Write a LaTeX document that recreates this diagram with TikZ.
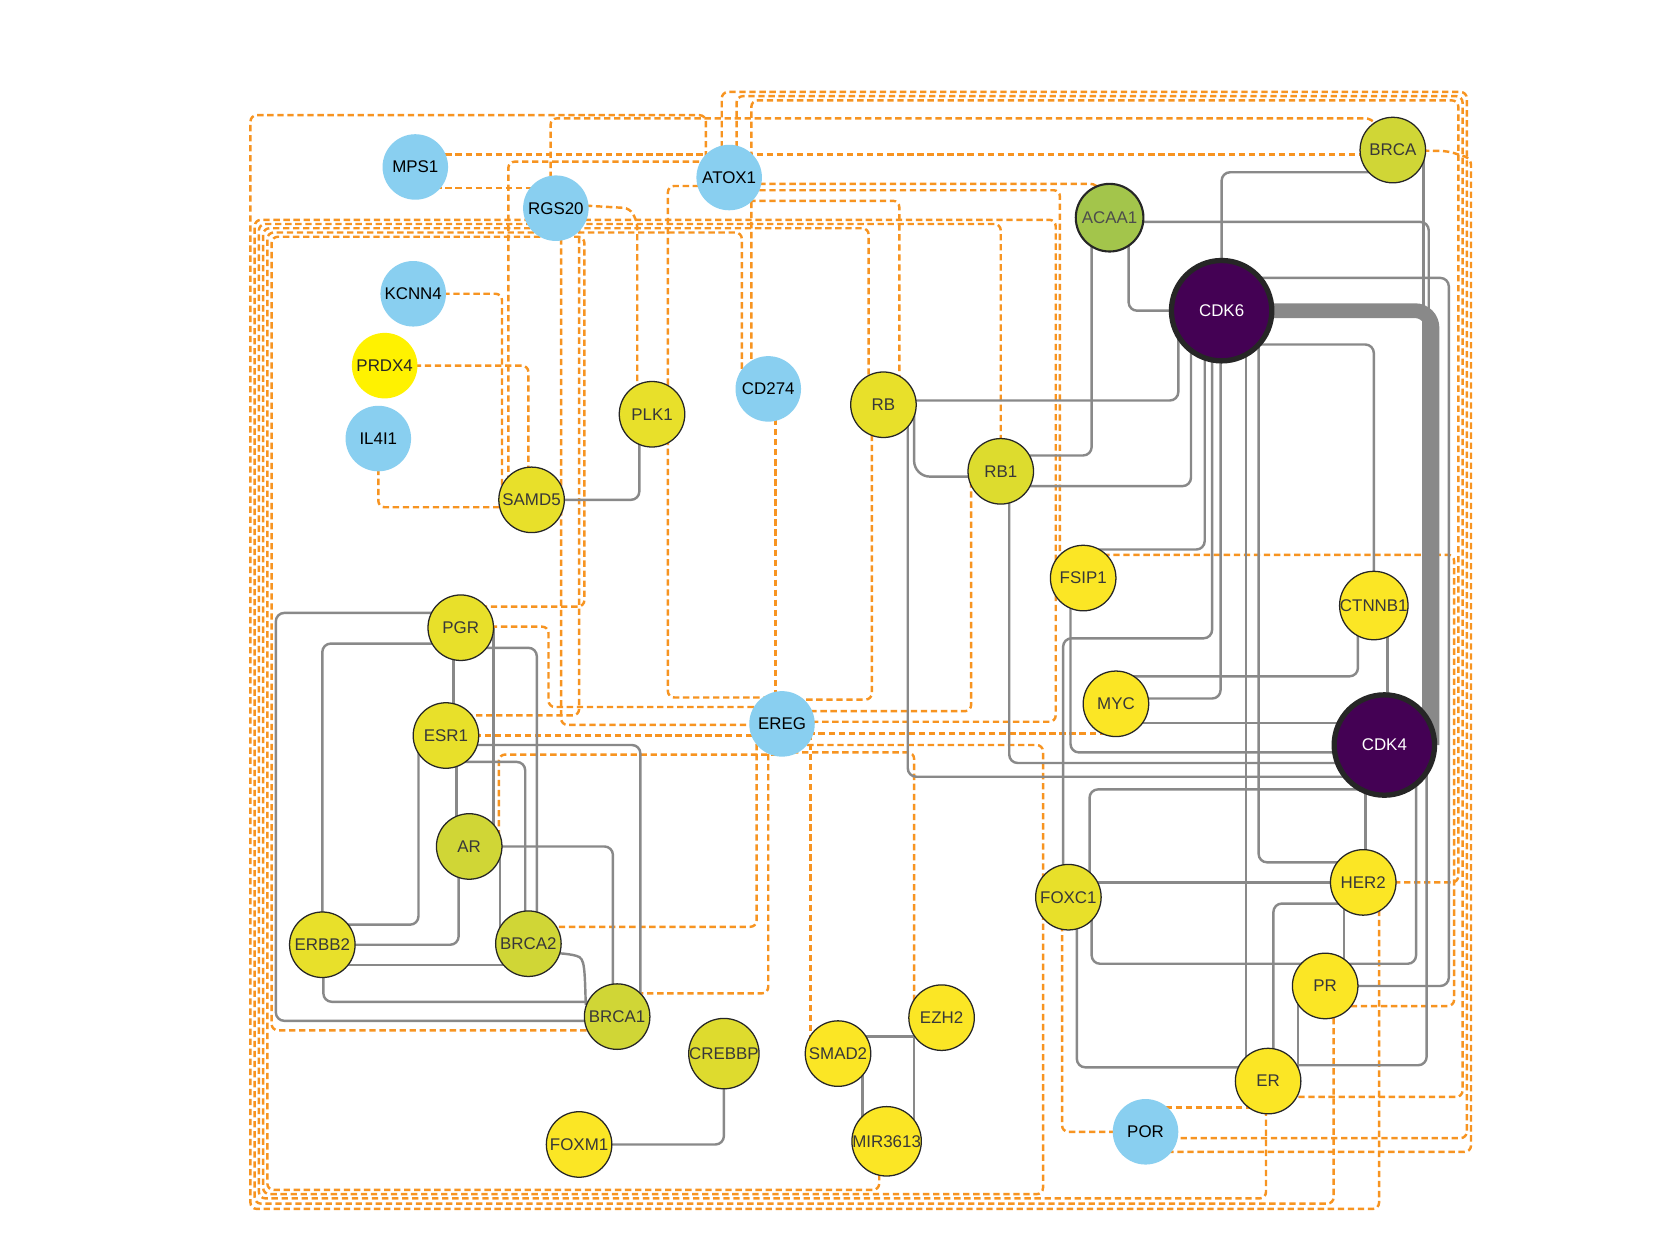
\documentclass[tikz,border=0pt]{standalone}
\usepackage{fontspec}
\setmainfont{Liberation Sans}
\usetikzlibrary{calc}
\pgfdeclarelayer{bg}
\pgfsetlayers{bg,main}
\definecolor{nblue}{HTML}{89CFF0}
\definecolor{yA}{HTML}{FBE625}
\definecolor{yB}{HTML}{E8E02A}
\definecolor{yC}{HTML}{DDDC2E}
\definecolor{yD}{HTML}{DEDB2E}
\definecolor{lime}{HTML}{D0D636}
\definecolor{acaa}{HTML}{A3C54B}
\definecolor{hubc}{HTML}{440154}
\definecolor{edgec}{HTML}{898989}
\definecolor{dashc}{HTML}{F79421}
\begin{document}
\begin{tikzpicture}[x=1pt,y=-1pt,
  gn/.style={circle,minimum size=62pt,inner sep=0pt,font=\fontsize{16}{19}\selectfont},
  yl/.style={gn,fill=#1,draw=black!85,line width=1.2pt,text=black!78},
  bl/.style={gn,fill=nblue,text=black},
  hub/.style={gn,minimum size=95pt,fill=hubc,draw=black!85,line width=5pt,text=white},
  ge/.style={draw=edgec,line width=2.3pt,rounded corners=8pt},
  de/.style={draw=dashc,line width=2.3pt,dash pattern=on 6pt off 3.5pt,rounded corners=6pt},
]
\useasboundingbox (0,0) rectangle (1568,1188);
% nodes
\node[bl] (MPS1) at (393,158) {MPS1};
\node[bl] (ATOX1) at (690,168) {ATOX1};
\node[bl] (RGS20) at (526,197) {RGS20};
\node[yl=lime] (BRCA) at (1318,142) {BRCA};
\node[gn,minimum size=64pt,fill=acaa,draw=black!85,line width=2pt,text=black!70] (ACAA1) at (1050,206) {ACAA1};
\node[hub] (CDK6) at (1156,294) {CDK6};
\node[bl] (KCNN4) at (391,278) {KCNN4};
\node[gn,fill=yellow,text=black!85] (PRDX4) at (364,346) {PRDX4};
\node[bl] (IL4I1) at (358,415) {IL4I1};
\node[yl=yB] (PLK1) at (617,392) {PLK1};
\node[bl] (CD274) at (727,368) {CD274};
\node[yl=yB] (RB) at (836,383) {RB};
\node[yl=yC] (RB1) at (947,446) {RB1};
\node[yl=yB] (SAMD5) at (503,473) {SAMD5};
\node[yl=yA] (FSIP1) at (1025,547) {FSIP1};
\node[yl=yA] (CTNNB1) at (1300,573) {CTNNB1};
\node[yl=yB] (PGR) at (436,594) {PGR};
\node[yl=yA] (MYC) at (1056,666) {MYC};
\node[hub] (CDK4) at (1310,705) {CDK4};
\node[bl] (EREG) at (740,685) {EREG};
\node[yl=yB] (ESR1) at (422,696) {ESR1};
\node[yl=lime] (AR) at (444,801) {AR};
\node[yl=yA] (HER2) at (1290,835) {HER2};
\node[yl=yB] (FOXC1) at (1011,849) {FOXC1};
\node[yl=yB] (ERBB2) at (305,894) {ERBB2};
\node[yl=lime] (BRCA2) at (500,893) {BRCA2};
\node[yl=yA] (PR) at (1254,933) {PR};
\node[yl=lime] (BRCA1) at (584,962) {BRCA1};
\node[yl=yA] (EZH2) at (891,963) {EZH2};
\node[yl=yD] (CREBBP) at (685,997) {CREBBP};
\node[yl=yA] (SMAD2) at (793,997) {SMAD2};
\node[yl=yA] (ER) at (1200,1023) {ER};
\node[bl] (POR) at (1084,1071) {POR};
\node[yl=yA] (FOXM1) at (548,1083) {FOXM1};
\node[yl=yA] (MIR3613) at (839,1080) {MIR3613};

\begin{pgfonlayer}{bg}
\fill[white] (0,0) rectangle (1568,1188);
% ---------- dashed edges ----------
\draw[de] (ATOX1 -| 668,0) -- (668,109) -- (237,109) -- (237,1144) -- (1305,1144) -- (HER2 -| 1305,0);
\draw[de] (PGR |- 0,574) -- (553,574) -- (553,224) -- (257,224) -- (257,975) -- (BRCA1 |- 0,975);
\draw[de] (CD274 -| 702,0) -- (702,220) -- (253,220) -- (253,1126) -- (832,1126) -- (MIR3613 -| 832,0);
\draw[de] (RB -| 822,0) -- (822,216) -- (249,216) -- (249,1130) -- (987,1130) -- (987,705) -- (EREG |- 0,705);
\draw[de] (RB1 -| 947,0) -- (947,212) -- (245,212) -- (245,1134) -- (1198,1134) -- (ER -| 1198,0);
\draw[de] (EREG |- 0,683) -- (999,683) -- (999,208) -- (241,208) -- (241,1139) -- (1262,1139) -- (PR -| 1262,0);
\draw[de] (MPS1 |- 0,146) -- (BRCA |- 0,146);
\draw[de] (MPS1 |- 0,178) -- (RGS20 |- 0,178);
\draw[de] (RGS20 -| 521,0) -- (521,112) -- (1298,112) -- (BRCA);
\draw[de] (ATOX1 -| 683,0) -- (683,87) -- (1388,87) -- (1388,1077) -- (POR |- 0,1077);
\draw[de] (ATOX1 -| 697,0) -- (697,91) -- (1384,91) -- (1384,1038) -- (ER |- 0,1038);
\draw[de] (CD274 -| 711,0) -- (711,95) -- (1380,95) -- (1380,835) -- (HER2.center);
\draw[de] (BRCA.center) -- (1370,143) -- (1392,150) -- (1392,1090) -- (POR |- 0,1090);
\draw[de] (FSIP1 |- 0,525) -- (1376,525) -- (1376,952) -- (PR |- 0,952);
\draw[de] (ATOX1 |- 0,174) -- (1038,174) -- (ACAA1);
\draw[de] (ATOX1 |- 0,180) -- (1003,180) -- (FSIP1 -| 1003,0);
\draw[de] (ATOX1 |- 0,190) -- (851,190) -- (RB -| 851,0);
\draw[de] (ATOX1 |- 0,176) -- (632,176) -- (632,660) -- (EREG |- 0,660);
\draw[de] (RB -| 825,0) -- (825,662) -- (EREG |- 0,662);
\draw[de] (RB1 -| 919,0) -- (919,673) -- (EREG |- 0,673);
\draw[de] (MYC |- 0,694) -- (EREG |- 0,694);
\draw[de] (EREG |- 0,712) -- (865,712) -- (EZH2 -| 865,0);
\draw[de] (EREG -| 767,0) -- (SMAD2 -| 767,0);
\draw[de] (EREG -| 716,0) -- (716,877) -- (BRCA2 |- 0,877);
\draw[de] (EREG -| 727,0) -- (727,940) -- (BRCA1 |- 0,940);
\draw[de] (EREG |- 0,696) -- (ESR1 |- 0,696);
\draw[de] (PGR |- 0,593) -- (519,593) -- (519,669) -- (EREG |- 0,669);
\draw[de] (ESR1 |- 0,677) -- (548,677) -- (RGS20 -| 548,0);
\draw[de] (AR -| 472,0) -- (472,714) -- (EREG |- 0,714);
\draw[de] (RGS20 -| 531,0) -- (531,686) -- (EREG |- 0,686);
\draw[de] (ATOX1 |- 0,153) -- (481,153) -- (SAMD5 -| 481,0);
\draw[de] (KCNN4.center) -- (475,278) -- (SAMD5 -| 475,0);
\draw[de] (PRDX4.center) -- (500,346) -- (SAMD5 -| 500,0);
\draw[de] (IL4I1.center) |- (SAMD5 |- 0,480);
\draw[de] (RGS20 |- 0,193) -- (596,197) -- (603,210) -- (PLK1 -| 603,0);
\draw[de] (CD274 -| 734,0) -- (EREG -| 734,0);
\draw[de] (POR |- 0,1048) -- (ER |- 0,1048);
\draw[de] (POR.center) -- (1005,1071) -- (FOXC1 -| 1005,0);
% ---------- solid edges ----------
\draw[ge,line width=14pt,rounded corners=16pt] (CDK6.center) -- (1355,294) -- (CDK4 -| 1355,0);
\draw[ge] (BRCA |- 0,163) -| (CDK6.center);
\draw[ge] (BRCA -| 1347,0) -- (CDK4 -| 1347,0);
\draw[ge] (ACAA1 |- 0,210) -- (1352,210) -- (CDK4 -| 1352,0);
\draw[ge] (ACAA1 -| 1068,0) |- (CDK6.center);
\draw[ge] (ACAA1 -| 1033,0) |- (RB1 |- 0,431);
\draw[ge] (RB |- 0,379) -| (CDK6 -| 1115,0);
\draw[ge,rounded corners=15pt] (RB -| 865,0) |- (RB1 |- 0,451);
\draw[ge] (RB -| 859,0) |- (CDK4 |- 0,735);
\draw[ge] (RB1 |- 0,460) -| (CDK6 -| 1127,0);
\draw[ge] (RB1 -| 955,0) |- (CDK4 |- 0,722);
\draw[ge] (CDK6 -| 1140,0) |- (FSIP1 |- 0,520);
\draw[ge] (CDK6 -| 1147,0) |- (1006,604) -- (FOXC1 -| 1006,0);
\draw[ge] (CDK6 -| 1155,0) |- (MYC |- 0,661);
\draw[ge] (CDK6 |- 0,326) -| (CTNNB1.center);
\draw[ge] (CDK6 |- 0,263) -- (1371,263) |- (PR.center);
\draw[ge] (CDK6 -| 1191,0) |- (HER2 |- 0,816);
\draw[ge] (CDK6 -| 1179,0) -- (ER -| 1179,0);
\draw[ge] (CTNNB1 -| 1285,0) |- (MYC |- 0,640);
\draw[ge] (CTNNB1 -| 1313,0) -- (CDK4 -| 1313,0);
\draw[ge] (MYC |- 0,684) -- (CDK4 |- 0,684);
\draw[ge] (FSIP1 -| 1013,0) |- (CDK4 |- 0,712);
\draw[ge] (FOXC1 |- HER2) -- (HER2.center);
\draw[ge] (FOXC1 -| 1033,0) |- (1340,912) -- (CDK4 -| 1340,0);
\draw[ge] (CDK4 |- 0,747) -| (FOXC1 -| 1031,0);
\draw[ge] (FOXC1 -| 1019,0) |- (ER |- 0,1010);
\draw[ge] (ER |- 0,1008) -| (CDK4 -| 1350,0);
\draw[ge] (HER2 |- 0,855) -| (ER -| 1205,0);
\draw[ge] (ER -| 1228,0) -- (PR -| 1228,0);
\draw[ge] (HER2 -| 1272,0) -- (PR -| 1272,0);
\draw[ge] (HER2 -| 1292,0) -- (CDK4 -| 1292,0);
% left cluster
\draw[ge] (PGR |- 0,580) -- (261,580) |- (BRCA1 |- 0,966);
\draw[ge] (PGR |- 0,609) -| (ERBB2.center);
\draw[ge] (PGR -| 429,0) -- (ESR1 -| 429,0);
\draw[ge] (PGR -| 467,0) -- (AR -| 467,0);
\draw[ge] (PGR |- 0,613) -| (BRCA2 -| 508,0);
\draw[ge] (ESR1 |- 0,705) -| (BRCA1 -| 606,0);
\draw[ge] (ESR1 |- 0,721) -| (BRCA2 -| 497,0);
\draw[ge] (ESR1 -| 396,0) |- (ERBB2 |- 0,875);
\draw[ge] (ESR1 -| 432,0) -- (AR -| 432,0);
\draw[ge] (AR -| 434,0) |- (ERBB2 |- 0,894);
\draw[ge] (AR |- 0,801) -| (BRCA1 -| 580,0);
\draw[ge] (AR -| 473,0) -- (BRCA2 -| 473,0);
\draw[ge] (ERBB2 |- 0,913) -- (BRCA2 |- 0,913);
\draw[ge] (ERBB2 -| 306,0) |- (BRCA1 |- 0,948);
\draw[ge] (BRCA2 |- 0,902) -- (534,902) .. controls (553,906) .. (BRCA1.160);
% bottom
\draw[ge] (SMAD2 |- 0,981) -- (EZH2 |- 0,981);
\draw[ge] (EZH2 -| 865,0) -- (MIR3613 -| 865,0);
\draw[ge] (SMAD2 -| 816,0) -- (MIR3613 -| 816,0);
\draw[ge] (CREBBP.center) |- (FOXM1.center);
\draw[ge] (SAMD5.center) -| (PLK1 -| 605,0);
\end{pgfonlayer}
\end{tikzpicture}
\end{document}
